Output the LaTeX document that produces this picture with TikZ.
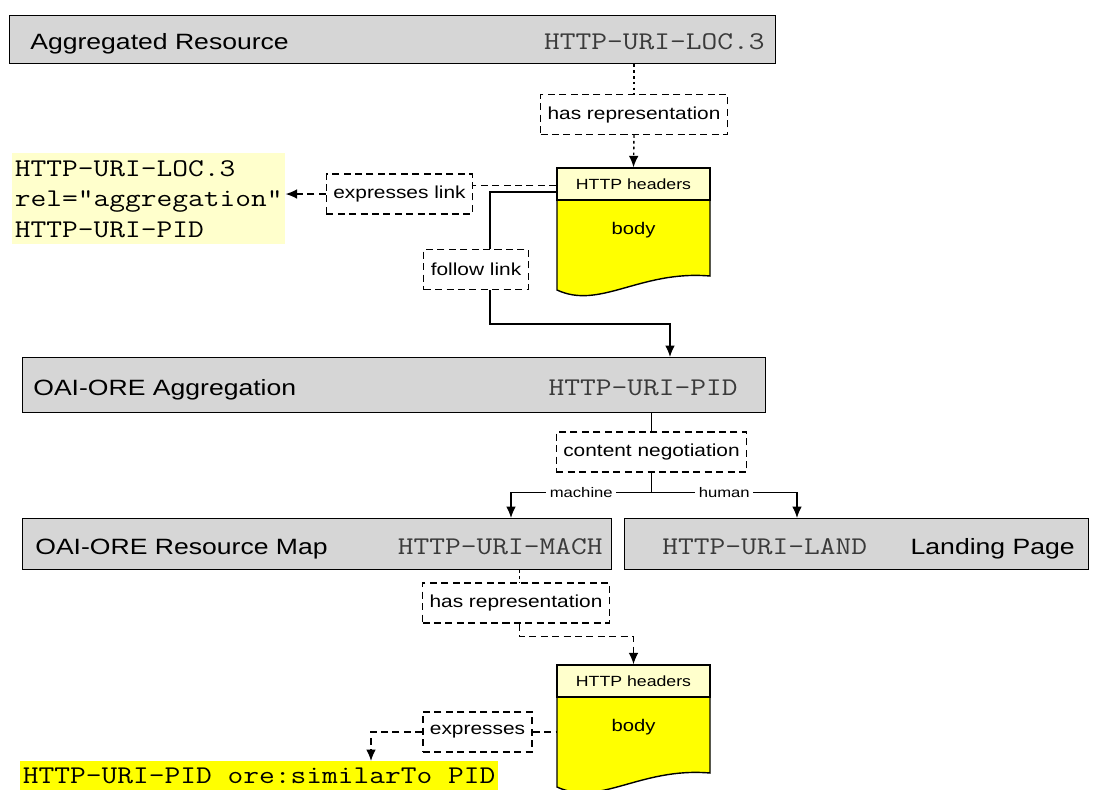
\documentclass[tikz,border=0pt]{standalone}
\usepackage{fontspec}
\setmainfont{Liberation Sans}[FakeStretch=1.2]
\setmonofont{Latin Modern Mono}[FakeStretch=1.2]
\usetikzlibrary{positioning,arrows.meta}
\definecolor{bargray}{HTML}{D6D6D6}
\definecolor{hdryellow}{HTML}{FFFFCC}
\definecolor{bodyyellow}{HTML}{FFFF00}
\definecolor{urigray}{HTML}{3A3A3A}
\tikzset{%
bar/.style={draw,fill=bargray,anchor=north west,inner sep=0,line width=0.8pt},
bartext/.style={anchor=base west,inner sep=0,font=\fontsize{12.6}{15}\selectfont},
uri/.style={inner sep=0,text=urigray,font=\ttfamily\fontsize{14.5}{17}\selectfont},
relbox/.style={draw,dash pattern=on 4pt off 2.5pt,line width=0.7pt,fill=white,minimum height=0.8cm,inner xsep=4pt,font=\fontsize{9.9}{12}\selectfont},
hdr/.style={draw,fill=hdryellow,minimum width=3.06cm,minimum height=0.64cm,inner sep=0,line width=0.8pt,font=\fontsize{8.4}{10}\selectfont},
bodytxt/.style={inner sep=0,font=\fontsize{9.6}{12}\selectfont},
docline/.style={draw,line width=0.8pt},
textblock/.style={anchor=north west,align=left,inner xsep=1.5pt,inner ysep=4pt,font=\ttfamily\fontsize{14.5}{17.3}\selectfont},
link/.style={line width=0.8pt},
dashlink/.style={line width=0.8pt,dash pattern=on 4pt off 2.5pt},
dotlink/.style={line width=0.8pt,dash pattern=on 1.5pt off 1.8pt},
lbl/.style={fill=white,inner sep=2pt,font=\fontsize{7.9}{10}\selectfont}
}
% one HTTP response: header band and wavy body
\newcommand\httpdoc[2]{%
  \draw[docline,fill=bodyyellow] (557,#2+32) -- (710,#2+32) -- (710,#2+108)
    .. controls (640,#2+102) and (600,#2+142) .. (557,#2+122) -- cycle;
  \node[hdr] (hdr#1) at (633.5,#2+16) {HTTP headers};
  \node[bodytxt] (body#1) at (633.5,#2+62) {body};
}

\begin{document}
\begin{tikzpicture}[x=0.02cm,y=-0.02cm,>={Latex[length=6.5pt,width=5.5pt]}]
  \useasboundingbox (0,0) rectangle (1098,789);
  \clip (0,0) rectangle (1098,789);

  % resource bars
  \node[bar,minimum width=15.32cm,minimum height=0.96cm] (aggres) at (9,15) {};
  \node[bartext] (aggrestxt) at (30,49) {Aggregated Resource};
  \node[uri,anchor=base east] (aggresuri) at (765,49) {HTTP-URI-LOC.3};

  \node[bar,minimum width=14.86cm,minimum height=1.1cm] (aggr) at (22,357) {};
  \node[bartext] (aggrtxt) at (33,395) {OAI-ORE Aggregation};
  \node[uri,anchor=base east] (aggruri) at (738,395) {HTTP-URI-PID};

  \node[bar,minimum width=11.78cm,minimum height=1.02cm] (resmap) at (22,518) {};
  \node[bartext] (resmaptxt) at (35,554) {OAI-ORE Resource Map};
  \node[uri,anchor=base east] (resmapuri) at (603,554) {HTTP-URI-MACH};

  \node[bar,minimum width=9.28cm,minimum height=1.02cm] (land) at (624,518) {};
  \node[uri,anchor=base west] (landuri) at (662,554) {HTTP-URI-LAND};
  \node[bartext,anchor=base east] (landtxt) at (1075,554) {Landing Page};

  % responses
  \httpdoc{1}{168}
  \httpdoc{2}{665}

  % text blocks
  \node[textblock,fill=hdryellow] (linkinfo) at (12,153)
    {HTTP-URI-LOC.3\\rel="aggregation"\\HTTP-URI-PID};
  \node[textblock,fill=bodyyellow] (similar) at (20,761)
    {HTTP-URI-PID ore:similarTo PID};

  % relation boxes
  \node[relbox] (hasrep1) at (634,114.5) {has representation};
  \node[relbox] (explink) at (399.5,194) {expresses link};
  \node[relbox] (follow) at (476,269.5) {follow link};
  \node[relbox] (cneg) at (651.5,452) {content negotiation};
  \node[relbox] (hasrep2) at (516,603) {has representation};
  \node[relbox] (expr) at (477.5,732) {expresses};

  \coordinate (aggin) at (670,357);
  \coordinate (machin) at (511,518);
  \coordinate (humin) at (797,518);
  \coordinate (simin) at (371,761);

  % connectors
  \draw[dotlink] (hasrep1.north |- aggres.south) -- (hasrep1.north);
  \draw[dotlink,->] (hasrep1.south) -- (hdr1.north);
  \draw[dashlink] ([yshift=-1pt]hdr1.west) -- ([yshift=-1pt]hdr1.west -| explink.east);
  \draw[dashlink,->] (explink.west) -- (explink.west -| linkinfo.east);
  \draw[link] ([yshift=-4.5pt]hdr1.west) -| ([xshift=8pt]follow.north);
  \draw[link,->] ([xshift=8pt]follow.south) -- ++(0,34) -| (aggin);

  \draw[link] (cneg.north |- aggr.south) -- (cneg.north);
  \draw[link] (cneg.south) -- ++(0,20) coordinate (split);
  \draw[link,->] (split) -| node[lbl,pos=0.25] {machine} (machin);
  \draw[link,->] (split) -| node[lbl,pos=0.25] {human} (humin);

  \draw[dotlink] ([xshift=2pt]hasrep2.north |- resmap.south) -- ([xshift=2pt]hasrep2.north);
  \draw[dashlink,->] ([xshift=2pt]hasrep2.south) -- ++(0,13) -| (hdr2.north);
  \draw[dashlink] (expr.east) -- (expr.east -| hdr2.west);
  \draw[dashlink,->] (expr.west) -| (simin);
\end{tikzpicture}
\end{document}
